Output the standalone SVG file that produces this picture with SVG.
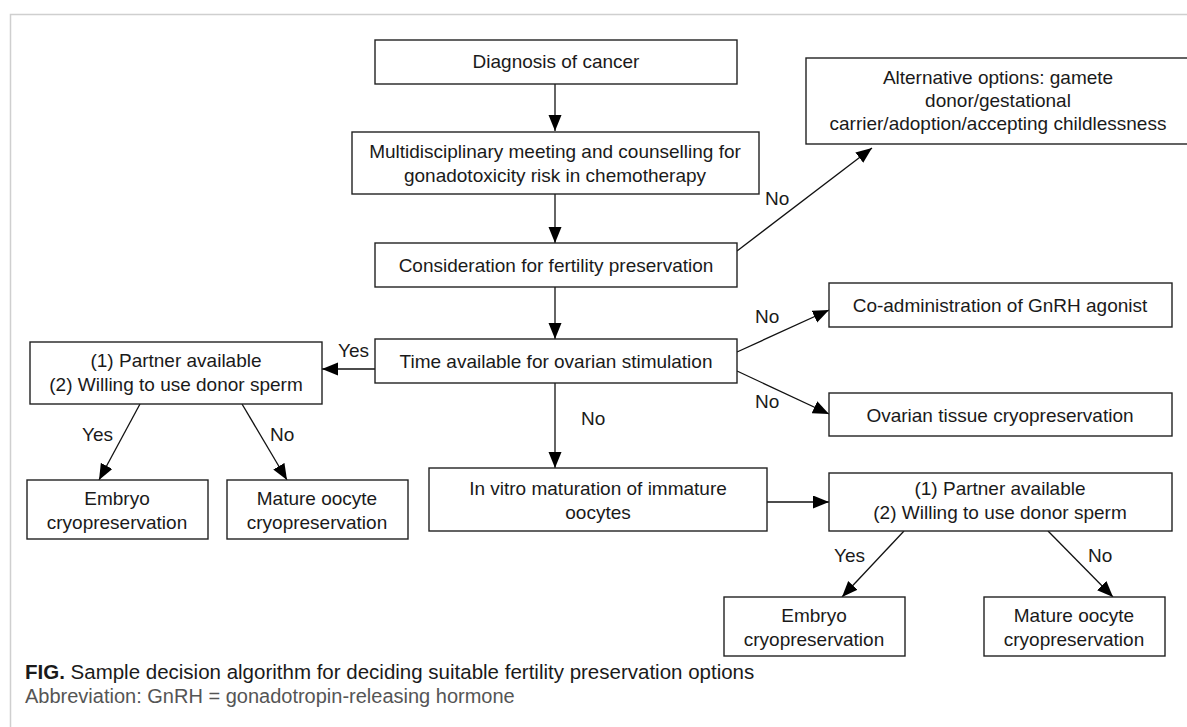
<svg xmlns="http://www.w3.org/2000/svg" width="1187" height="727" viewBox="0 0 1187 727">
<style>
.box{fill:#fff;stroke:#222;stroke-width:1.4}
.t{font-family:"Liberation Sans",Arial,sans-serif;font-size:19px;fill:#1a1a1a;text-anchor:middle}
.l{font-family:"Liberation Sans",Arial,sans-serif;font-size:19px;fill:#1a1a1a}
.c{fill:none;stroke:#111;stroke-width:1.3}
</style>
<defs>
<marker id="ah" markerUnits="userSpaceOnUse" markerWidth="17" markerHeight="14" refX="16" refY="6.5" orient="auto">
<path d="M0,0 L16,6.5 L0,13 Z" fill="#000"/>
</marker>
</defs>
<rect width="1187" height="727" fill="#fff"/>
<path d="M10.5,727 V14.5 H1187" fill="none" stroke="#cfcfcf" stroke-width="1.5"/>

<g id="connectors">
<line class="c" x1="555" y1="84" x2="555" y2="131" marker-end="url(#ah)"/>
<line class="c" x1="555" y1="194" x2="555" y2="243" marker-end="url(#ah)"/>
<line class="c" x1="555" y1="287" x2="555" y2="339" marker-end="url(#ah)"/>
<line class="c" x1="555" y1="383" x2="555" y2="468" marker-end="url(#ah)"/>
<line class="c" x1="737" y1="251" x2="872" y2="148" marker-end="url(#ah)"/>
<line class="c" x1="737" y1="352" x2="829" y2="310" marker-end="url(#ah)"/>
<line class="c" x1="737" y1="371" x2="829" y2="414" marker-end="url(#ah)"/>
<line class="c" x1="375" y1="369" x2="322" y2="369" marker-end="url(#ah)"/>
<line class="c" x1="140" y1="404" x2="99" y2="480" marker-end="url(#ah)"/>
<line class="c" x1="242" y1="404" x2="287" y2="480" marker-end="url(#ah)"/>
<line class="c" x1="767" y1="502" x2="829" y2="502" marker-end="url(#ah)"/>
<line class="c" x1="904" y1="531" x2="842" y2="597" marker-end="url(#ah)"/>
<line class="c" x1="1048" y1="531" x2="1113" y2="597" marker-end="url(#ah)"/>
<text class="l" x="765" y="205">No</text>
<text class="l" x="755" y="323">No</text>
<text class="l" x="755" y="408">No</text>
<text class="l" x="581" y="425">No</text>
<text class="l" x="338" y="357">Yes</text>
<text class="l" x="82" y="441">Yes</text>
<text class="l" x="270" y="441">No</text>
<text class="l" x="834" y="562">Yes</text>
<text class="l" x="1088" y="562">No</text>
</g>

<g id="n-diagnosis">
<rect class="box" x="375" y="40" width="362" height="44"/>
<text class="t" x="556" y="68">Diagnosis of cancer</text>
</g>
<g id="n-mdt">
<rect class="box" x="352" y="132" width="407" height="62"/>
<text class="t" x="555" y="158">Multidisciplinary meeting and counselling for</text>
<text class="t" x="555" y="182">gonadotoxicity risk in chemotherapy</text>
</g>
<g id="n-consideration">
<rect class="box" x="375" y="243" width="362" height="44"/>
<text class="t" x="556" y="272">Consideration for fertility preservation</text>
</g>
<g id="n-alternative">
<rect class="box" x="806" y="58" width="390" height="86"/>
<text class="t" x="998" y="84">Alternative options: gamete</text>
<text class="t" x="998" y="107">donor/gestational</text>
<text class="t" x="998" y="130">carrier/adoption/accepting childlessness</text>
</g>
<g id="n-time">
<rect class="box" x="375" y="339" width="362" height="44"/>
<text class="t" x="556" y="368">Time available for ovarian stimulation</text>
</g>
<g id="n-gnrh">
<rect class="box" x="829" y="283" width="343" height="44"/>
<text class="t" x="1000" y="312">Co-administration of GnRH agonist</text>
</g>
<g id="n-ovarian">
<rect class="box" x="829" y="393" width="343" height="43"/>
<text class="t" x="1000" y="422">Ovarian tissue cryopreservation</text>
</g>
<g id="n-partner-left">
<rect class="box" x="30" y="342" width="292" height="62"/>
<text class="t" x="176" y="367">(1) Partner available</text>
<text class="t" x="176" y="391">(2) Willing to use donor sperm</text>
</g>
<g id="n-embryo-left">
<rect class="box" x="27" y="480" width="181" height="59"/>
<text class="t" x="117" y="505">Embryo</text>
<text class="t" x="117" y="529">cryopreservation</text>
</g>
<g id="n-oocyte-left">
<rect class="box" x="227" y="480" width="181" height="59"/>
<text class="t" x="317" y="505">Mature oocyte</text>
<text class="t" x="317" y="529">cryopreservation</text>
</g>
<g id="n-ivm">
<rect class="box" x="429" y="468" width="338" height="63"/>
<text class="t" x="598" y="495">In vitro maturation of immature</text>
<text class="t" x="598" y="519">oocytes</text>
</g>
<g id="n-partner-right">
<rect class="box" x="829" y="473" width="343" height="58"/>
<text class="t" x="1000" y="495">(1) Partner available</text>
<text class="t" x="1000" y="519">(2) Willing to use donor sperm</text>
</g>
<g id="n-embryo-right">
<rect class="box" x="724" y="597" width="181" height="59"/>
<text class="t" x="814" y="622">Embryo</text>
<text class="t" x="814" y="646">cryopreservation</text>
</g>
<g id="n-oocyte-right">
<rect class="box" x="984" y="597" width="181" height="59"/>
<text class="t" x="1074" y="622">Mature oocyte</text>
<text class="t" x="1074" y="646">cryopreservation</text>
</g>

<g id="caption">
<text x="25" y="679" font-family="'Liberation Sans',Arial,sans-serif" font-size="20.5" fill="#1a1a1a"><tspan font-weight="bold">FIG.</tspan>  Sample decision algorithm for deciding suitable fertility preservation options</text>
<text x="25" y="703" font-family="'Liberation Sans',Arial,sans-serif" font-size="20" fill="#555">Abbreviation: GnRH = gonadotropin-releasing hormone</text>
</g>
</svg>
